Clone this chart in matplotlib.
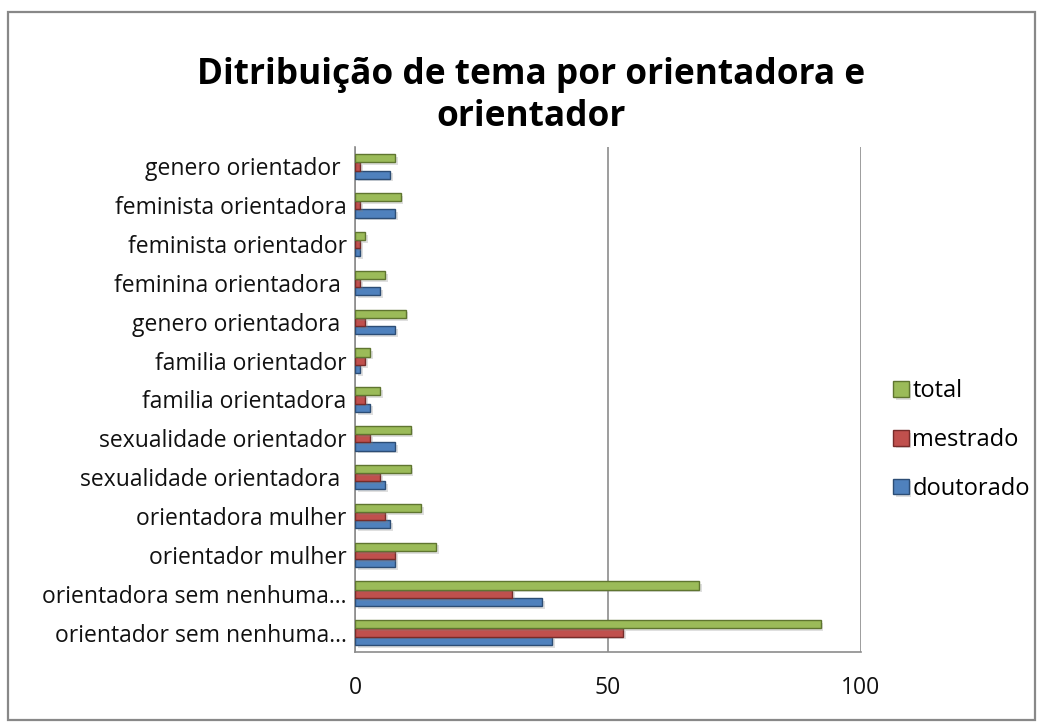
import matplotlib
matplotlib.use("Agg")
import matplotlib.pyplot as plt
import matplotlib.patches as mpatches
import matplotlib.patheffects as pe
import numpy as np

categories = [
    "orientador sem nenhuma...",
    "orientadora sem nenhuma...",
    "orientador mulher",
    "orientadora mulher",
    "sexualidade orientadora ",
    "sexualidade orientador",
    "familia orientadora",
    "familia orientador",
    "genero orientadora ",
    "feminina orientadora ",
    "feminista orientador",
    "feminista orientadora",
    "genero orientador ",
]
doutorado = [39, 37, 8, 7, 6, 8, 3, 1, 8, 5, 1, 8, 7]
mestrado = [53, 31, 8, 6, 5, 3, 2, 2, 2, 1, 1, 1, 1]
total = [92, 68, 16, 13, 11, 11, 5, 3, 10, 6, 2, 9, 8]
series_names = ["doutorado", "mestrado", "total"]
xticks = [0, 50, 100]

colors = {"doutorado": "#4F81BD", "mestrado": "#C0504D", "total": "#9BBB59"}
edges = {"doutorado": "#2C4D75", "mestrado": "#772C2A", "total": "#5F7530"}

plt.rcParams['font.family'] = ['Open Sans', 'DejaVu Sans']

W, H = 1043, 728
fig = plt.figure(figsize=(W / 100, H / 100), dpi=100)
fig.patch.set_facecolor("white")

# outer chart border
fig.add_artist(mpatches.Rectangle((8 / W, 1 - 720 / H), (1035 - 8) / W, (720 - 12) / H,
                                  transform=fig.transFigure, fill=False,
                                  edgecolor="#888888", linewidth=1.6))

ax = fig.add_axes([355 / W, 1 - 652 / H, (861 - 355) / W, (652 - 147) / H])

y = np.arange(len(categories))
h = 0.21
shadow = [pe.SimplePatchShadow(offset=(2, -2), alpha=0.25, shadow_rgbFace="gray"), pe.Normal()]
for off, name, vals in [(-h, "doutorado", doutorado), (0, "mestrado", mestrado), (h, "total", total)]:
    bars = ax.barh(y + off, vals, height=h, color=colors[name], edgecolor=edges[name],
                   linewidth=1.0, label=name, zorder=3)
    for b in bars:
        b.set_path_effects(shadow)

ax.set_xlim(0, 100)
ax.set_ylim(-0.5, len(categories) - 0.5)
ax.set_xticks(xticks)
ax.set_xticklabels([str(t) for t in xticks])
ax.set_yticks(y)
ax.set_yticklabels(categories)
ax.tick_params(axis="both", length=0, labelsize=16.5, colors="#111111")
ax.tick_params(axis="x", pad=17)
ax.tick_params(axis="y", pad=6)
ax.xaxis.grid(True, color="#8C8C8C", linewidth=1.2, zorder=0)
ax.set_axisbelow(True)
for s in ["top", "right"]:
    ax.spines[s].set_visible(False)
ax.spines["left"].set_color("#8C8C8C")
ax.spines["bottom"].set_color("#8C8C8C")
ax.spines["left"].set_linewidth(1.2)
ax.spines["bottom"].set_linewidth(1.2)

fig.text(531 / W, 1 - 96 / H, "Ditribuição de tema por orientadora e\norientador",
         ha="center", va="center", fontsize=25.4, fontweight="bold", linespacing=1.2,
         color="#000000")

handles, labels = ax.get_legend_handles_labels()
leg = fig.legend(handles[::-1], labels[::-1], loc="center left",
                 bbox_to_anchor=(872 / W, 1 - 440 / H), frameon=False,
                 fontsize=17, labelspacing=1.05, handlelength=0.65, handleheight=0.65,
                 handletextpad=0.15)

fig.savefig("out.png", dpi=100)
